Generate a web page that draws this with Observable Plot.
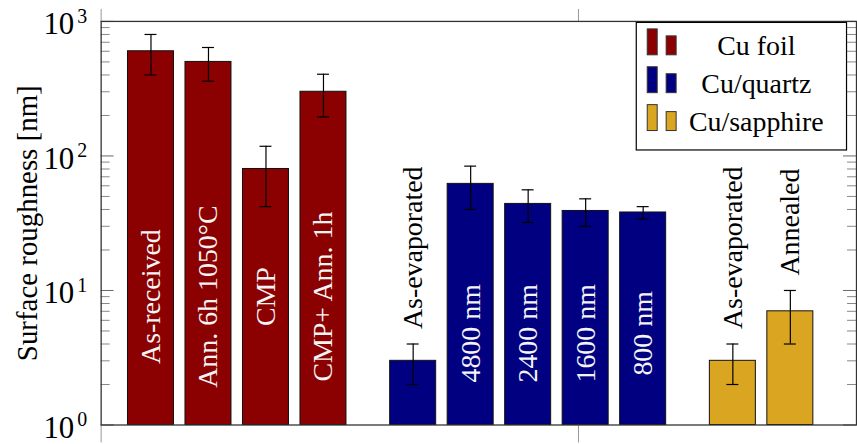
<!DOCTYPE html>
<html><head><meta charset="utf-8">
<script src="https://cdn.jsdelivr.net/npm/d3@7"></script>
<script src="https://cdn.jsdelivr.net/npm/@observablehq/plot@0.6"></script>
<style>
body{margin:0;background:#fff;}
#chart{position:relative;width:857px;height:444px;overflow:hidden;}
#chart svg text{font-family:'Liberation Serif','DejaVu Serif',serif;}
</style></head><body><div id="chart"></div>
<script>
// ---- data ----
const groupNames = ["Cu foil", "Cu/quartz", "Cu/sapphire"];
const groupColors = ["#8b0000", "#000080", "#daa520"];
const foilLabels = ["As-received", "Ann. 6h 1050°C", "CMP", "CMP+ Ann. 1h"];
const foilValues = [600, 500, 80, 300];
const foilErrors = [200, 140, 38, 105];
const quartzLabels = ["As-evaporated", "4800 nm", "2400 nm", "1600 nm", "800 nm"];
const quartzValues = [3, 62, 44, 39, 38];
const quartzErrors = [1, 22, 12, 9, 4];
const sapphireLabels = ["As-evaporated", "Annealed"];
const sapphireValues = [3, 7];
const sapphireErrors = [1, 3];
const yTickValues = [1, 10, 100, 1000];
const yTickExponents = ["0", "1", "2", "3"];
const yTitle = "Surface roughness [nm]";

// ---- layout ----
const FONT = "'Liberation Serif', 'DejaVu Serif', serif";
const W = 860, H = 444, mL = 101, mR = 1, mT = 21, mB = 18;
const plotW = W - mL - mR, plotH = H - mT - mB;
const PX = 57.7;           // pixels per bar slot
const firstCenter = 151;   // pixel centre of first bar
const xmin = (mL - firstCenter) / PX;
const xmax = xmin + plotW / PX;
const groupGap = 0.56;
const barHalf = 0.4;
const capHalf = 6 / PX;
const xTicks = [xmin, xmin + 479 / PX];

const groupsData = [
  [foilLabels, foilValues, foilErrors],
  [quartzLabels, quartzValues, quartzErrors],
  [sapphireLabels, sapphireValues, sapphireErrors]
];
const rows = [];
let slot = 0;
groupsData.forEach(([labs, vals, errs], g) => {
  labs.forEach((lab, i) => {
    rows.push({group: g, label: lab, value: vals[i], err: errs[i], slot, color: groupColors[g], inside: vals[i] >= 20});
    slot += 1;
  });
  slot += groupGap;
});
const insideAnchor = [9.0, 4.8, 4.8];

const minorTicks = [];
[1, 10, 100].forEach(d => { for (let k = 2; k <= 9; k++) minorTicks.push(d * k); });

const chart = Plot.plot({
  width: W, height: H,
  marginLeft: mL, marginRight: mR, marginTop: mT, marginBottom: mB,
  style: {fontFamily: FONT, background: "white", overflow: "visible"},
  x: {type: "linear", domain: [xmin, xmax], axis: null},
  y: {type: "log", domain: [1, 1000], axis: null},
  marks: [
    Plot.rect(rows, {x1: d => d.slot - barHalf, x2: d => d.slot + barHalf, y1: 1, y2: "value", fill: "color", stroke: "#111", strokeWidth: 1}),
    Plot.ruleX(rows, {x: "slot", y1: d => d.value - d.err, y2: d => d.value + d.err, stroke: "#000", strokeWidth: 1.2}),
    Plot.ruleY(rows.flatMap(d => [{s: d.slot, y: d.value - d.err}, {s: d.slot, y: d.value + d.err}]),
      {y: "y", x1: d => d.s - capHalf, x2: d => d.s + capHalf, stroke: "#000", strokeWidth: 1.2}),
    Plot.text(rows.filter(d => d.inside), {x: "slot", y: d => insideAnchor[d.group], text: "label", rotate: -90, fill: "#f4f4f4", fontSize: 28}),
    Plot.text(rows.filter(d => !d.inside), {x: "slot", y: d => d.value + d.err, text: "label", rotate: -90, textAnchor: "start", dy: -15, fill: "#000", fontSize: 28}),
    Plot.tickY(minorTicks, {y: d => d, insetRight: plotW - 9, stroke: "#888", strokeWidth: 1}),
    Plot.tickY(yTickValues, {y: d => d, insetRight: plotW - 13, stroke: "#666", strokeWidth: 1}),
    Plot.tickY(minorTicks, {y: d => d, insetLeft: plotW - 9, stroke: "#888", strokeWidth: 1}),
    Plot.tickY(yTickValues, {y: d => d, insetLeft: plotW - 13, stroke: "#666", strokeWidth: 1}),
    Plot.tickX(xTicks, {x: d => d, insetTop: -12, insetBottom: plotH, stroke: "#999", strokeWidth: 1}),
    Plot.tickX(xTicks, {x: d => d, insetTop: plotH, insetBottom: -18, stroke: "#999", strokeWidth: 1}),
    Plot.frame({stroke: "#333", strokeWidth: 1.3}),
    Plot.text(yTickValues, {y: d => d, frameAnchor: "left", text: () => "10", textAnchor: "end", dx: -27, dy: 3, fontSize: 31, fill: "#000"}),
    Plot.text(yTickValues, {y: d => d, frameAnchor: "left", text: (d, i) => yTickExponents[i], textAnchor: "end", dx: -14, dy: -5, fontSize: 20, fill: "#000"}),
    Plot.text([yTitle], {frameAnchor: "left", text: d => d, rotate: -90, textAnchor: "middle", dx: -74, fontSize: 29, fill: "#000"})
  ]
});

// ---- legend ----
const svg = d3.select(chart);
const lg = svg.append("g");
lg.append("rect").attr("x", 638.5).attr("y", 22.5).attr("width", 211).attr("height", 128)
  .attr("fill", "white").attr("stroke", "#000").attr("stroke-width", 1.2);
groupNames.forEach((name, r) => {
  const by = 55 + 38 * r;
  lg.append("rect").attr("x", 649.5).attr("y", by - 26).attr("width", 10).attr("height", 26)
    .attr("fill", groupColors[r]).attr("stroke", "#333").attr("stroke-width", 1);
  lg.append("rect").attr("x", 668.5).attr("y", by - 19).attr("width", 10).attr("height", 19)
    .attr("fill", groupColors[r]).attr("stroke", "#333").attr("stroke-width", 1);
  lg.append("text").attr("x", 759).attr("y", by).attr("text-anchor", "middle")
    .style("font-family", FONT).style("font-size", "28px").attr("fill", "#000").text(name);
});

document.getElementById("chart").appendChild(chart);
</script></body></html>
